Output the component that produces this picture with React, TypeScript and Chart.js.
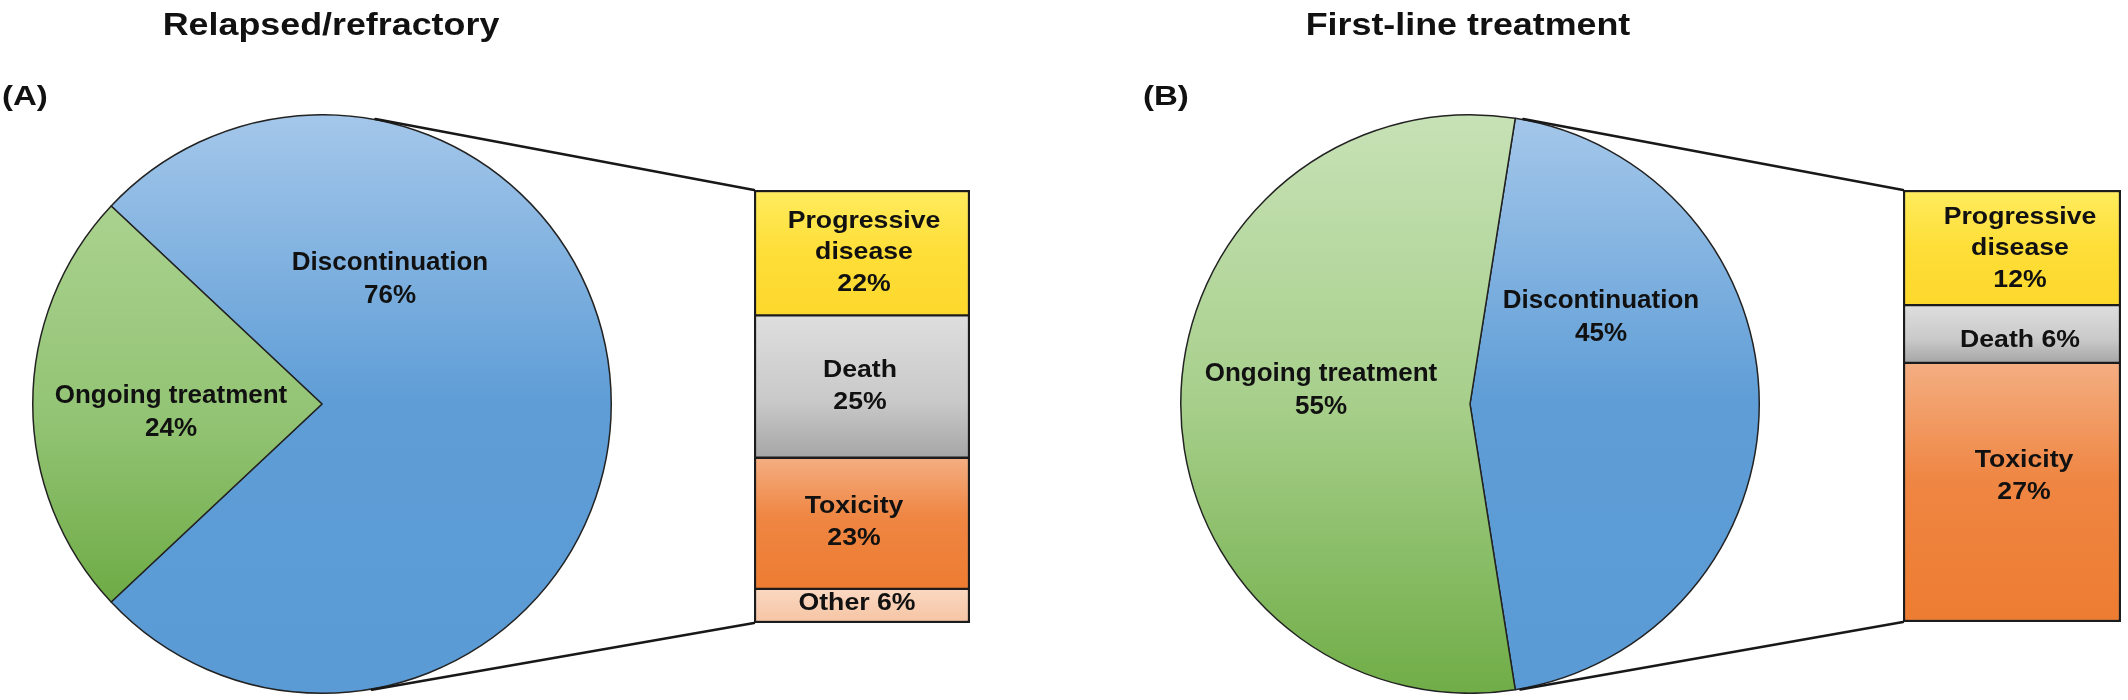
import React, { useEffect, useRef } from 'react';
import { Chart, registerables } from 'chart.js';

Chart.register(...registerables);

// ---------------- data ----------------
const panelTitles = ['Relapsed/refractory', 'First-line treatment'];
const panelTags = ['(A)', '(B)'];
const outcomeLabels = ['Discontinuation', 'Ongoing treatment'];
const outcomeValuesA = [76, 24];
const outcomeValuesB = [45, 55];
const reasonLabelsA = ['Progressive disease', 'Death', 'Toxicity', 'Other'];
const reasonValuesA = [22, 25, 23, 6];
const reasonLabelsB = ['Progressive disease', 'Death', 'Toxicity'];
const reasonValuesB = [12, 6, 27];

// ---------------- style ----------------
const FONT = '"Liberation Sans", Arial, Helvetica, sans-serif';
const INK = '#111111';
const EDGE = '#222222';

type Stops = [number, string][];
const BLUE_STOPS: Stops = [[0, '#A4C7EA'], [0.5, '#5E9DD6'], [1, '#5B9BD5']];
const GREEN_A: Stops = [[0, '#AAD28F'], [0.55, '#92C373'], [1, '#6EAB45']];
const GREEN_B: Stops = [[0, '#C7E2B6'], [0.5, '#A7CF8B'], [1, '#70AD47']];
const REASON_STOPS: Record<string, Stops> = {
  'Progressive disease': [[0, '#FFEC5E'], [0.5, '#FEDE38'], [1, '#FDD82C']],
  Death: [[0, '#DEDEDE'], [0.6, '#C9C9C9'], [1, '#A6A6A6']],
  Toxicity: [[0, '#F4AE82'], [0.45, '#EF8643'], [1, '#ED7C31']],
  Other: [[0, '#FAD8C2'], [1, '#F6C4A3']],
};

type Layout = {
  pie: { cx: number; cy: number; r: number };
  bar: { x: number; y: number; w: number; h: number };
  titleX: number;
  tagX: number;
  pieText: { dx: number; dy: number }[];
  modes: string[];
  shift: [number, number][];
  green: Stops;
};

const LAYOUTS: Layout[] = [
  {
    pie: { cx: 322, cy: 404, r: 289 },
    bar: { x: 754, y: 190, w: 216, h: 433 },
    titleX: 331,
    tagX: 2,
    pieText: [{ dx: 68, dy: -125 }, { dx: -151, dy: 8 }],
    modes: ['wrap', 'stack', 'stack', 'inline'],
    shift: [[2, 0], [-2, 0], [-8, -1], [-5, -3]],
    green: GREEN_A,
  },
  {
    pie: { cx: 1470, cy: 404, r: 289 },
    bar: { x: 1903, y: 190, w: 218, h: 432 },
    titleX: 1468,
    tagX: 1143,
    pieText: [{ dx: 131, dy: -87 }, { dx: -149, dy: -14 }],
    modes: ['wrap', 'inline', 'stack'],
    shift: [[8, 1], [8, 6], [12, -16]],
    green: GREEN_B,
  },
];

const PANELS = [
  { title: panelTitles[0], tag: panelTags[0], outcome: outcomeValuesA, reasons: reasonLabelsA, reasonValues: reasonValuesA, layout: LAYOUTS[0] },
  { title: panelTitles[1], tag: panelTags[1], outcome: outcomeValuesB, reasons: reasonLabelsB, reasonValues: reasonValuesB, layout: LAYOUTS[1] },
];

const PIE_BW = 1.5;
const sum = (a: number[]) => a.reduce((s, v) => s + v, 0);

function makeGradient(ctx: CanvasRenderingContext2D, y0: number, y1: number, stops: Stops) {
  const g = ctx.createLinearGradient(0, y0, 0, y1 <= y0 ? y0 + 1 : y1);
  stops.forEach(([o, c]) => g.addColorStop(o, c));
  return g;
}

function drawStretched(ctx: CanvasRenderingContext2D, text: string, x: number, y: number, font: string, sx: number) {
  ctx.save();
  ctx.font = font;
  ctx.translate(x, y);
  ctx.scale(sx, 1);
  ctx.fillText(text, 0, 0);
  ctx.restore();
}

function pieRotation(values: number[]) {
  // the discontinuation slice is centred on the right-hand side
  return 90 - (180 * values[0]) / sum(values);
}

export default function App() {
  const pieRefs = useRef<(HTMLCanvasElement | null)[]>([]);
  const barRefs = useRef<(HTMLCanvasElement | null)[]>([]);
  const overlayRef = useRef<HTMLCanvasElement | null>(null);

  useEffect(() => {
    const charts: Chart[] = [];
    const pies: Chart[] = [];
    const bars: Chart[] = [];

    PANELS.forEach((p, i) => {
      const L = p.layout;
      const total = sum(p.outcome);
      const rotation = pieRotation(p.outcome);

      const pieFill = (c: any) => {
        const chart = c.chart;
        const area = chart.chartArea;
        const idx = c.dataIndex ?? 0;
        const stops = idx === 0 ? BLUE_STOPS : L.green;
        if (!area) return stops[stops.length - 1][1];
        const cx = (area.left + area.right) / 2;
        const cy = (area.top + area.bottom) / 2;
        const r = (Math.min(area.right - area.left, area.bottom - area.top) - PIE_BW) / 2;
        const rot = ((rotation - 90) * Math.PI) / 180;
        const before = sum(p.outcome.slice(0, idx));
        const a0 = rot + (2 * Math.PI * before) / total;
        const a1 = a0 + (2 * Math.PI * p.outcome[idx]) / total;
        let minY = cy;
        let maxY = cy;
        for (let k = 0; k <= 90; k++) {
          const a = a0 + ((a1 - a0) * k) / 90;
          const y = cy + r * Math.sin(a);
          minY = Math.min(minY, y);
          maxY = Math.max(maxY, y);
        }
        return makeGradient(chart.ctx, minY, maxY, stops);
      };

      const pieLabelPlugin = {
        id: 'pieLabels' + i,
        afterDatasetsDraw(chart: any) {
          const arc = chart.getDatasetMeta(0).data[0];
          if (!arc) return;
          const { x, y } = arc.getProps(['x', 'y'], true);
          const ctx = chart.ctx as CanvasRenderingContext2D;
          ctx.save();
          ctx.fillStyle = INK;
          ctx.textAlign = 'center';
          ctx.textBaseline = 'middle';
          outcomeLabels.forEach((lab, j) => {
            const lines = [lab, `${p.outcome[j]}%`];
            const off = L.pieText[j];
            const lh = 33;
            lines.forEach((t, k) => {
              const ly = y + off.dy + (k - (lines.length - 1) / 2) * lh;
              drawStretched(ctx, t, x + off.dx, ly, `bold 26px ${FONT}`, 1);
            });
          });
          ctx.restore();
        },
      };

      const pie = new Chart(pieRefs.current[i] as HTMLCanvasElement, {
        type: 'pie',
        data: {
          labels: outcomeLabels,
          datasets: [
            {
              data: p.outcome,
              backgroundColor: pieFill as any,
              borderColor: EDGE,
              borderWidth: PIE_BW,
            },
          ],
        },
        options: {
          responsive: false,
          animation: false,
          events: [],
          rotation,
          layout: { padding: 0 },
          plugins: { legend: { display: false }, tooltip: { enabled: false } },
        },
        plugins: [pieLabelPlugin],
      });
      pies.push(pie);
      charts.push(pie);

      const rTotal = sum(p.reasonValues);
      const last = p.reasons.length - 1;

      const barLabelPlugin = {
        id: 'barLabels' + i,
        afterDatasetsDraw(chart: any) {
          const ctx = chart.ctx as CanvasRenderingContext2D;
          ctx.save();
          ctx.fillStyle = INK;
          ctx.textAlign = 'center';
          ctx.textBaseline = 'middle';
          p.reasons.forEach((lab, j) => {
            const el = chart.getDatasetMeta(j).data[0];
            if (!el) return;
            const { x, y, base } = el.getProps(['x', 'y', 'base'], true);
            const v = `${p.reasonValues[j]}%`;
            const mode = L.modes[j];
            let lines: string[];
            if (mode === 'wrap') lines = [...lab.split(' '), v];
            else if (mode === 'stack') lines = [lab, v];
            else lines = [`${lab} ${v}`];
            const lh = 31.5;
            const [sxOff, syOff] = L.shift[j];
            const mid = (y + base) / 2 + syOff;
            lines.forEach((t, k) => {
              const ly = mid + (k - (lines.length - 1) / 2) * lh;
              drawStretched(ctx, t, x + sxOff, ly, `bold 24px ${FONT}`, 1.11);
            });
          });
          ctx.restore();
        },
      };

      const bar = new Chart(barRefs.current[i] as HTMLCanvasElement, {
        type: 'bar',
        data: {
          labels: [''],
          datasets: p.reasons.map((lab, j) => ({
            label: lab,
            data: [p.reasonValues[j]],
            backgroundColor: ((c: any) => {
              const stops = REASON_STOPS[lab];
              const chart = c.chart;
              const ys = chart.scales && chart.scales.y;
              if (!ys || !chart.chartArea) return stops[stops.length - 1][1];
              const start = sum(p.reasonValues.slice(0, j));
              const y0 = ys.getPixelForValue(start);
              const y1 = ys.getPixelForValue(start + p.reasonValues[j]);
              return makeGradient(chart.ctx, Math.min(y0, y1), Math.max(y0, y1), stops);
            }) as any,
            borderColor: '#1c1c1c',
            borderWidth: {
              top: j === 0 ? 2.5 : 1.5,
              bottom: j === last ? 2.5 : 1.5,
              left: 2.5,
              right: 2.5,
            } as any,
            borderSkipped: false as any,
            barPercentage: 1,
            categoryPercentage: 1,
          })),
        },
        options: {
          responsive: false,
          animation: false,
          events: [],
          layout: { padding: 0 },
          scales: {
            x: { stacked: true, display: false },
            y: { stacked: true, display: false, reverse: true, min: 0, max: rTotal },
          },
          plugins: { legend: { display: false }, tooltip: { enabled: false } },
        },
        plugins: [barLabelPlugin],
      });
      bars.push(bar);
      charts.push(bar);
    });

    // overlay: titles, panel tags, zoom connectors
    const ov = overlayRef.current;
    if (ov) {
      const ctx = ov.getContext('2d') as CanvasRenderingContext2D;
      ctx.clearRect(0, 0, ov.width, ov.height);
      ctx.fillStyle = INK;
      PANELS.forEach((p, i) => {
        const L = p.layout;
        ctx.textBaseline = 'alphabetic';
        ctx.textAlign = 'center';
        drawStretched(ctx, p.title, L.titleX, 35, `bold 32px ${FONT}`, 1.12);
        ctx.textAlign = 'left';
        drawStretched(ctx, p.tag, L.tagX, 105, `bold 28px ${FONT}`, 1.18);

        const pieCanvas = pieRefs.current[i] as HTMLCanvasElement;
        const barCanvas = barRefs.current[i] as HTMLCanvasElement;
        const arc: any = pies[i].getDatasetMeta(0).data[0];
        const ap = arc.getProps(['x', 'y', 'outerRadius'], true);
        const cx = pieCanvas.offsetLeft + ap.x;
        const cy = pieCanvas.offsetTop + ap.y;
        const r = ap.outerRadius + PIE_BW / 2;

        const firstEl: any = bars[i].getDatasetMeta(0).data[0];
        const lastEl: any = bars[i].getDatasetMeta(p.reasons.length - 1).data[0];
        const f = firstEl.getProps(['x', 'y', 'base', 'width'], true);
        const l = lastEl.getProps(['x', 'y', 'base', 'width'], true);
        const bx = barCanvas.offsetLeft + f.x - f.width / 2;
        const bTop = barCanvas.offsetTop + Math.min(f.y, f.base);
        const bBot = barCanvas.offsetTop + Math.max(l.y, l.base);

        const tangent = (px: number, py: number, upper: boolean) => {
          const dx = px - cx;
          const dy = py - cy;
          const d = Math.hypot(dx, dy);
          const th = Math.acos(Math.min(1, r / d));
          const phi = Math.atan2(dy, dx);
          const a = upper ? phi - th : phi + th;
          return [cx + r * Math.cos(a), cy + r * Math.sin(a)];
        };

        ctx.strokeStyle = '#181818';
        ctx.lineWidth = 2.5;
        ctx.lineCap = 'round';
        const t1 = tangent(bx, bTop, true);
        const t2 = tangent(bx, bBot, false);
        ctx.beginPath();
        ctx.moveTo(t1[0], t1[1]);
        ctx.lineTo(bx, bTop);
        ctx.moveTo(t2[0], t2[1]);
        ctx.lineTo(bx, bBot);
        ctx.stroke();
      });
    }

    return () => {
      charts.forEach((c) => c.destroy());
    };
  }, []);

  return (
    <div
      style={{
        position: 'absolute',
        left: 0,
        top: 0,
        width: 2128,
        height: 700,
        background: '#ffffff',
        overflow: 'hidden',
      }}
    >
      {PANELS.map((p, i) => {
        const L = p.layout;
        const S = 2 * L.pie.r + 2;
        return (
          <React.Fragment key={i}>
            <canvas
              ref={(el) => {
                pieRefs.current[i] = el;
              }}
              width={S}
              height={S}
              style={{ position: 'absolute', left: L.pie.cx - S / 2, top: L.pie.cy - S / 2, width: S, height: S }}
            />
            <canvas
              ref={(el) => {
                barRefs.current[i] = el;
              }}
              width={L.bar.w}
              height={L.bar.h}
              style={{ position: 'absolute', left: L.bar.x, top: L.bar.y, width: L.bar.w, height: L.bar.h }}
            />
          </React.Fragment>
        );
      })}
      <canvas
        ref={overlayRef}
        width={2128}
        height={700}
        style={{ position: 'absolute', left: 0, top: 0, width: 2128, height: 700, pointerEvents: 'none' }}
      />
    </div>
  );
}
